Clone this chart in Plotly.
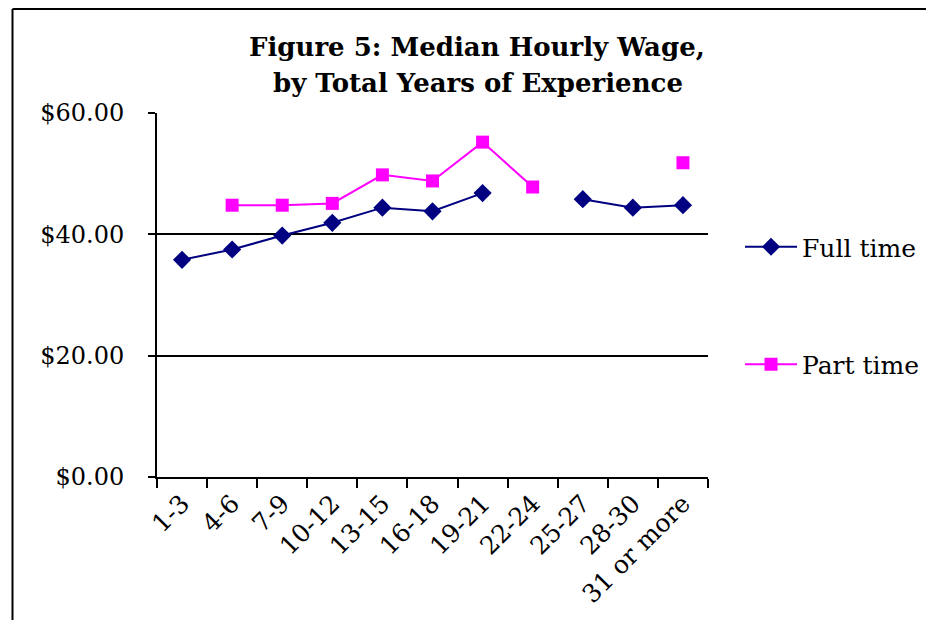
import plotly.graph_objects as go

categories = ["1-3", "4-6", "7-9", "10-12", "13-15", "16-18", "19-21",
              "22-24", "25-27", "28-30", "31 or more"]
full_time = [35.8, 37.5, 39.8, 41.9, 44.4, 43.8, 46.8, None, 45.8, 44.4, 44.8]
part_time = [None, 44.8, 44.8, 45.1, 49.8, 48.8, 55.2, 47.8, None, None, 51.8]
y_ticks = [0, 20, 40, 60]
y_tick_labels = ["$0.00", "$20.00", "$40.00", "$60.00"]

FONT = "DejaVu Serif"

fig = go.Figure()
fig.add_trace(go.Scatter(
    x=categories, y=full_time, name="Full time", mode="lines+markers",
    line=dict(color="#000080", width=2),
    marker=dict(symbol="diamond", size=14, color="#000080"),
    connectgaps=False, legendgroup="a"))
fig.add_trace(go.Scatter(
    x=categories, y=part_time, name="Part time", mode="lines+markers",
    line=dict(color="#FF00FF", width=2),
    marker=dict(symbol="square", size=13, color="#FF00FF"),
    connectgaps=False, legendgroup="b"))

# target pixel geometry (page coordinates); the page body has an 8px margin
OFF = 8
L, R, T, B = 157, 708, 113, 477
W, H = 934, 620
pw, ph = R - L, B - T

def px(x):
    return (x - L) / pw

def py(y):
    return (B - y) / ph

fig.update_layout(
    width=W, height=H,
    margin=dict(l=L - OFF, r=W - (R - OFF), t=T - OFF, b=H - (B - OFF), pad=0),
    paper_bgcolor="white", plot_bgcolor="white",
    font=dict(family=FONT, size=23, color="black"),
    showlegend=True,
    legend=dict(x=px(740), y=py(224), xanchor="left", yanchor="top",
                font=dict(family=FONT, size=25, color="black"),
                itemwidth=52,
                tracegroupgap=82, bgcolor="rgba(0,0,0,0)"),
    xaxis=dict(type="category", range=[-0.5, 10.5], tickangle=-45,
               ticks="outside", ticklen=9, tickwidth=2, tickcolor="black",
               tickson="boundaries", showline=True, linecolor="black",
               linewidth=2, showgrid=False, zeroline=False,
               tickfont=dict(family=FONT, size=25, color="black")),
    yaxis=dict(range=[0, 60], tickvals=y_ticks, ticktext=y_tick_labels,
               ticks="outside", ticklen=7, tickwidth=2, tickcolor="black",
               showline=True, linecolor="black", linewidth=2,
               showgrid=True, gridcolor="black", gridwidth=2,
               zeroline=False, ticklabelstandoff=19,
               tickfont=dict(family=FONT, size=24, color="black")),
    annotations=[
        dict(text="<b>Figure 5: Median Hourly Wage,</b>", xref="paper", yref="paper",
             x=px(477), y=py(47), xanchor="center", yanchor="middle",
             showarrow=False, font=dict(family=FONT, size=26, color="black")),
        dict(text="<b>by Total Years of Experience</b>", xref="paper", yref="paper",
             x=px(478), y=py(83), xanchor="center", yanchor="middle",
             showarrow=False, font=dict(family=FONT, size=26, color="black")),
    ],
    shapes=[
        dict(type="line", xref="paper", yref="paper", x0=px(12.5), x1=px(12.5),
             y0=py(9), y1=py(640), line=dict(color="black", width=2)),
        dict(type="line", xref="paper", yref="paper", x0=px(12.5), x1=px(960),
             y0=py(9), y1=py(9), line=dict(color="black", width=2)),
    ],
)

fig.write_html("out.html")
